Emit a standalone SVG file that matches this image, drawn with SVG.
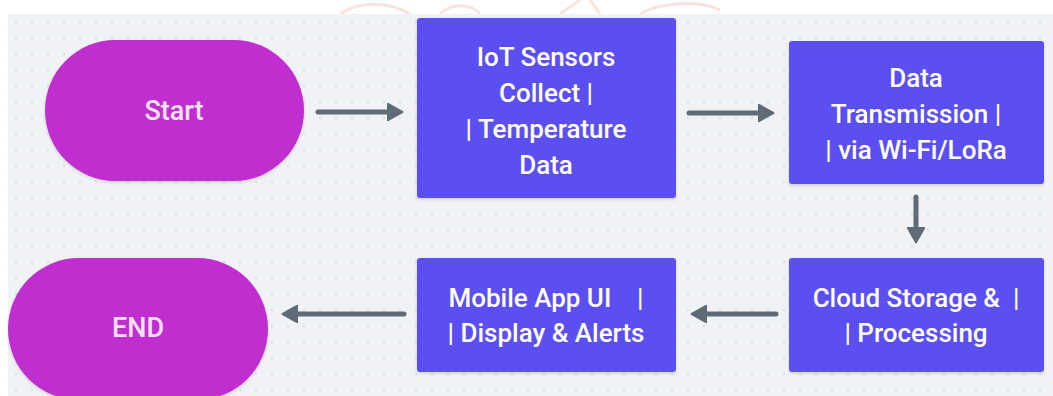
<svg xmlns="http://www.w3.org/2000/svg" width="1053" height="396" viewBox="0 0 1053 396">
  <defs>
    <pattern id="dots" x="8" y="14" width="16" height="16" patternUnits="userSpaceOnUse">
      <circle cx="8" cy="8" r="0.9" fill="#cdd2d9"/>
    </pattern>
    <marker id="ah" viewBox="0 0 10 10" refX="5" refY="5" markerWidth="3.6" markerHeight="3.6" orient="auto" markerUnits="strokeWidth">
      <path d="M0.5,0.5 L8.5,5 L0.5,9.5 Z" fill="#5f6b77" stroke="#5f6b77" stroke-width="1.2" stroke-linejoin="round"/>
    </marker>
    <filter id="sh" x="-10%" y="-10%" width="120%" height="130%">
      <feDropShadow dx="0" dy="1.5" stdDeviation="1.5" flood-color="#000" flood-opacity="0.15"/>
    </filter>
  </defs>
  <style>
    .term { fill: #c02dd0; filter: url(#sh); }
    .proc { fill: #5b4ff2; filter: url(#sh); }
    .tt { font-family: Roboto, "Liberation Sans", sans-serif; font-weight: 500; font-size: 27px; fill: #f9e2f8; text-anchor: middle; dominant-baseline: central; }
    .pt { font-family: Roboto, "Liberation Sans", sans-serif; font-weight: 500; font-size: 26px; fill: #ffffff; text-anchor: middle; dominant-baseline: central; }
    .conn { stroke: #5f6b77; stroke-width: 5; fill: none; stroke-linecap: round; marker-end: url(#ah); }
  </style>
  <rect x="0" y="0" width="1053" height="396" fill="#ffffff"/>
  <g opacity="0.3" fill="none" stroke="#f0a48c" stroke-width="3">
    <path d="M340,14 C360,0 390,2 410,14"/>
    <path d="M440,14 C450,4 470,2 480,14"/>
    <path d="M560,14 L580,0 M600,14 L590,0"/>
    <path d="M640,14 C660,2 700,0 720,10"/>
  </g>
  <rect x="8" y="14" width="1045" height="382" fill="#f0f2f5"/>
  <rect x="8" y="14" width="1045" height="382" fill="url(#dots)"/>

  <g id="connectors">
    <line class="conn" x1="318" y1="112" x2="396" y2="112"/>
    <line class="conn" x1="689" y1="113" x2="767" y2="113"/>
    <line class="conn" x1="916" y1="197" x2="916" y2="236"/>
    <line class="conn" x1="776" y1="314" x2="698" y2="314"/>
    <line class="conn" x1="404" y1="314" x2="289" y2="314"/>
  </g>

  <g id="start">
    <rect class="term" x="45" y="40" width="259" height="141" rx="70.5"/>
    <text class="tt" x="174" y="111">Start</text>
  </g>
  <g id="iot">
    <rect class="proc" x="417" y="18" width="259" height="180" rx="3"/>
    <text class="pt" x="546" y="57">IoT Sensors</text>
    <text class="pt" x="546" y="93">Collect |</text>
    <text class="pt" x="546" y="129">| Temperature</text>
    <text class="pt" x="546" y="165">Data</text>
  </g>
  <g id="transmission">
    <rect class="proc" x="789" y="41" width="255" height="143" rx="3"/>
    <text class="pt" x="916" y="78">Data</text>
    <text class="pt" x="916" y="114">Transmission |</text>
    <text class="pt" x="916" y="150">| via Wi-Fi/LoRa</text>
  </g>
  <g id="cloud">
    <rect class="proc" x="789" y="258" width="255" height="114" rx="3"/>
    <text class="pt" x="916" y="298" xml:space="preserve">Cloud Storage &amp;  |</text>
    <text class="pt" x="916" y="333">| Processing</text>
  </g>
  <g id="mobile">
    <rect class="proc" x="417" y="258" width="259" height="114" rx="3"/>
    <text class="pt" x="546" y="298" xml:space="preserve">Mobile App UI    |</text>
    <text class="pt" x="546" y="333">| Display &amp; Alerts</text>
  </g>
  <g id="end">
    <rect class="term" x="8" y="258" width="260" height="142" rx="71"/>
    <text class="tt" x="138" y="328">END</text>
  </g>
</svg>
